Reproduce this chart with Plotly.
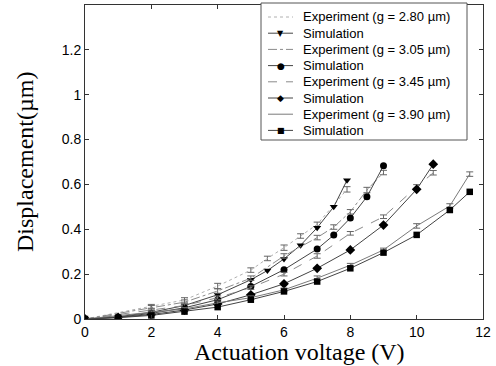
import plotly.graph_objects as go

# Experiment g = 2.80 um
exp1_x = [0, 2, 3, 4, 5, 5.5, 6, 6.5, 7, 7.9]
exp1_y = [0, 0.055, 0.085, 0.147, 0.218, 0.27, 0.318, 0.37, 0.422, 0.578]
exp1_e = [0, 0.01, 0.01, 0.012, 0.01, 0.01, 0.012, 0.01, 0.01, 0.012]
sim1_x = [0, 1, 2, 3, 4, 5, 5.5, 6, 6.5, 7, 7.5, 7.9]
sim1_y = [0, 0.01, 0.03, 0.06, 0.108, 0.175, 0.216, 0.268, 0.329, 0.407, 0.50, 0.619]

# Experiment g = 3.05 um
exp2_x = [0, 2, 3, 4, 5, 6, 7, 7.5, 8, 8.5, 9]
exp2_y = [0, 0.05, 0.075, 0.125, 0.182, 0.281, 0.363, 0.41, 0.478, 0.575, 0.653]
exp2_e = [0, 0.01, 0.01, 0.01, 0.01, 0.01, 0.01, 0.01, 0.01, 0.012, 0.01]
sim2_x = [0, 1, 2, 3, 4, 5, 6, 7, 7.5, 8, 8.5, 9]
sim2_y = [0, 0.008, 0.025, 0.05, 0.086, 0.145, 0.22, 0.312, 0.374, 0.45, 0.545, 0.683]

# Experiment g = 3.45 um
exp3_x = [0, 2, 3, 4, 5, 6, 7, 8, 9, 10, 10.5]
exp3_y = [0, 0.04, 0.06, 0.095, 0.14, 0.2, 0.281, 0.382, 0.456, 0.589, 0.652]
exp3_e = [0, 0.008, 0.008, 0.008, 0.008, 0.008, 0.01, 0.008, 0.008, 0.01, 0.01]
sim3_x = [0, 1, 2, 3, 4, 5, 6, 7, 8, 9, 10, 10.5]
sim3_y = [0, 0.007, 0.02, 0.04, 0.067, 0.108, 0.157, 0.226, 0.308, 0.419, 0.578, 0.69]

# Experiment g = 3.90 um
exp4_x = [0, 2, 3, 4, 5, 6, 7, 8, 9, 10, 11, 11.6]
exp4_y = [0, 0.03, 0.045, 0.072, 0.095, 0.13, 0.182, 0.24, 0.308, 0.415, 0.504, 0.646]
exp4_e = [0, 0.006, 0.006, 0.008, 0.008, 0.008, 0.01, 0.008, 0.008, 0.01, 0.01, 0.01]
sim4_x = [0, 1, 2, 3, 4, 5, 6, 7, 8, 9, 10, 11, 11.6]
sim4_y = [0, 0.006, 0.016, 0.033, 0.053, 0.086, 0.123, 0.167, 0.226, 0.296, 0.375, 0.486, 0.567]

x_ticks = [0, 2, 4, 6, 8, 10, 12]
y_ticks = [0, 0.2, 0.4, 0.6, 0.8, 1.0, 1.2]
y_tick_labels = ["0", "0.2", "0.4", "0.6", "0.8", "1", "1.2"]

exp_names = ["Experiment (g = 2.80 \u00b5m)", "Experiment (g = 3.05 \u00b5m)",
             "Experiment (g = 3.45 \u00b5m)", "Experiment (g = 3.90 \u00b5m)"]
sim_name = "Simulation"
x_title = "Actuation voltage (V)"
y_title = "Displacement(\u00b5m)"

exp_dash = ["dot", "dashdot", "dash", "solid"]
exp_color = ["#b0b0b0", "#8a8a8a", "#8a8a8a", "#7a7a7a"]
sim_color = "#444444"
sim_symbol = ["triangle-down", "circle", "diamond", "square"]
sim_size = [7, 7, 7.5, 6.5]
sim_glyph = ["\u25bc", "\u25cf", "\u25c6", "\u25a0"]
glyph_size = [8, 9, 9, 8]

exps = [(exp1_x, exp1_y, exp1_e), (exp2_x, exp2_y, exp2_e),
        (exp3_x, exp3_y, exp3_e), (exp4_x, exp4_y, exp4_e)]
sims = [(sim1_x, sim1_y), (sim2_x, sim2_y), (sim3_x, sim3_y), (sim4_x, sim4_y)]

W, H = 496, 366
ML, MR, MT, MB = 85, 13, 5, 47
PW, PH = W - ML - MR, H - MT - MB


def px2x(px):
    return (px - ML) / PW


def py2y(py):
    return (H - MB - py) / PH


fig = go.Figure()
for i in range(4):
    ex, ey, ee = exps[i]
    sx, sy = sims[i]
    fig.add_trace(go.Scatter(
        x=ex, y=ey, mode="lines", name=exp_names[i], showlegend=False,
        line=dict(color=exp_color[i], width=1, dash=exp_dash[i]),
        error_y=dict(type="data", array=ee, visible=True, color="#666666",
                     thickness=1, width=3.5),
    ))
    fig.add_trace(go.Scatter(
        x=sx, y=sy, mode="lines+markers", name=sim_name, showlegend=False,
        line=dict(color=sim_color, width=1),
        marker=dict(symbol=sim_symbol[i], size=sim_size[i], color="black"),
    ))

# ---- manual legend (compact row spacing like the original) ----
shapes = []
annotations = []
box_l, box_r, box_t, box_b = 261, 467, 3, 140
shapes.append(dict(type="rect", xref="paper", yref="paper",
                   x0=px2x(box_l), x1=px2x(box_r), y0=py2y(box_b), y1=py2y(box_t),
                   line=dict(color="#555555", width=1), fillcolor="white", layer="above"))
row0, row_h = 17.0, 16.2
s_l, s_r, txt_x = 268, 293, 301
legend_font = dict(family="Liberation Sans, Arial, sans-serif", size=13, color="black")
for i in range(4):
    for j in range(2):
        k = 2 * i + j
        yc = row0 + row_h * k
        if j == 0:
            shapes.append(dict(type="line", xref="paper", yref="paper",
                               x0=px2x(s_l), x1=px2x(s_r), y0=py2y(yc), y1=py2y(yc),
                               line=dict(color=exp_color[i], width=1, dash=exp_dash[i]),
                               layer="above"))
            label = exp_names[i]
        else:
            shapes.append(dict(type="line", xref="paper", yref="paper",
                               x0=px2x(s_l), x1=px2x(s_r), y0=py2y(yc), y1=py2y(yc),
                               line=dict(color=sim_color, width=1), layer="above"))
            annotations.append(dict(xref="paper", yref="paper",
                                    x=px2x((s_l + s_r) / 2), y=py2y(yc),
                                    text=sim_glyph[i], showarrow=False,
                                    xanchor="center", yanchor="middle",
                                    font=dict(family="DejaVu Sans", size=glyph_size[i],
                                              color="black")))
            label = sim_name
        annotations.append(dict(xref="paper", yref="paper", x=px2x(txt_x), y=py2y(yc),
                                text=label, showarrow=False, xanchor="left",
                                yanchor="middle", font=legend_font))

title_font = dict(family="Liberation Serif, Times New Roman, serif", size=24, color="black")
annotations.append(dict(xref="paper", yref="paper", x=px2x(299), y=py2y(352),
                        text=x_title, showarrow=False, xanchor="center",
                        yanchor="middle", font=title_font))
annotations.append(dict(xref="paper", yref="paper", x=px2x(25), y=py2y(162),
                        text=y_title, showarrow=False, xanchor="center",
                        yanchor="middle", textangle=-90, font=title_font))

axis_common = dict(
    showline=True, linecolor="#333333", linewidth=1, mirror="ticks",
    ticks="inside", ticklen=4, tickcolor="#333333", showgrid=False, zeroline=False,
    tickfont=dict(family="Liberation Sans, Arial, sans-serif", size=14, color="black"),
)

fig.update_layout(
    width=W, height=H,
    margin=dict(l=ML, r=MR, t=MT, b=MB),
    paper_bgcolor="white", plot_bgcolor="white",
    xaxis=dict(range=[0, 12], tickvals=x_ticks, **axis_common),
    yaxis=dict(range=[0, 1.4], tickvals=y_ticks, ticktext=y_tick_labels, **axis_common),
    shapes=shapes,
    annotations=annotations,
    showlegend=False,
)

fig.write_html("out.html")
